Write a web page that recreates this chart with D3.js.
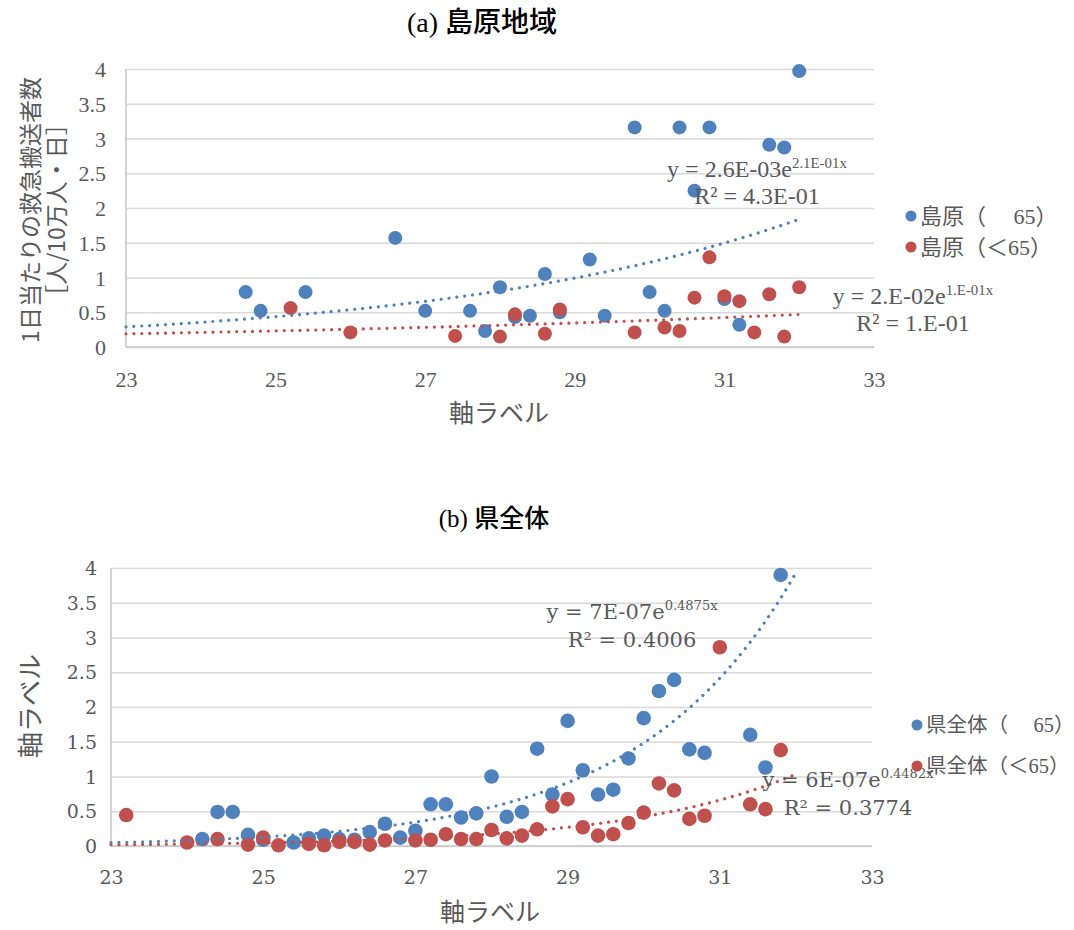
<!DOCTYPE html>
<html>
<head>
<meta charset="utf-8">
<script src="https://cdn.jsdelivr.net/npm/d3@7"></script>
<style>
  body { margin: 0; background: #fff; }
  text { fill: #595959; }
</style>
</head>
<body>
<svg id="chart" width="1074" height="930"></svg>
<script>
// ---------- shared axis ticks ----------
const xTicks = [23, 25, 27, 29, 31, 33];
const yTicks = [0, 0.5, 1, 1.5, 2, 2.5, 3, 3.5, 4];

// ---------- (a) 島原地域 ----------
const shimaOldX = [24.6, 24.8, 25.4, 26.6, 27.0, 27.6, 27.8, 28.0, 28.2, 28.4, 28.6, 28.8, 29.2, 29.4, 29.8, 30.0, 30.2, 30.4, 30.6, 30.8, 31.0, 31.2, 31.6, 31.8, 32.0];
const shimaOldY = [0.79, 0.52, 0.79, 1.57, 0.52, 0.52, 0.23, 0.86, 0.43, 0.45, 1.05, 0.50, 1.26, 0.45, 3.16, 0.79, 0.52, 3.16, 2.25, 3.16, 0.69, 0.32, 2.91, 2.87, 3.97];
const shimaYoungX = [25.2, 26.0, 27.4, 28.0, 28.2, 28.6, 28.8, 29.8, 30.2, 30.4, 30.6, 30.8, 31.0, 31.2, 31.4, 31.6, 31.8, 32.0];
const shimaYoungY = [0.56, 0.21, 0.16, 0.15, 0.47, 0.19, 0.54, 0.21, 0.28, 0.23, 0.71, 1.29, 0.73, 0.66, 0.21, 0.76, 0.15, 0.86];
// exponential trend y = a·e^(b·x) and R²
const shimaOldTrend = [0.00256, 0.2055, 0.43];
const shimaYoungTrend = [0.0188, 0.1005, 0.12];
const shimaLegend = ["島原（　 65）", "島原（＜65）"];

// ---------- (b) 県全体 ----------
const prefOldX = [24.2, 24.4, 24.6, 24.8, 25.0, 25.4, 25.6, 25.8, 26.0, 26.2, 26.4, 26.6, 26.8, 27.0, 27.2, 27.4, 27.6, 27.8, 28.0, 28.2, 28.4, 28.6, 28.8, 29.0, 29.2, 29.4, 29.6, 29.8, 30.0, 30.2, 30.4, 30.6, 30.8, 31.4, 31.6, 31.8];
const prefOldY = [0.10, 0.49, 0.49, 0.16, 0.09, 0.05, 0.11, 0.15, 0.10, 0.09, 0.20, 0.32, 0.12, 0.22, 0.60, 0.60, 0.41, 0.47, 1.00, 0.42, 0.49, 1.40, 0.74, 1.80, 1.09, 0.74, 0.81, 1.26, 1.84, 2.23, 2.39, 1.39, 1.34, 1.60, 1.13, 3.90];
const prefYoungX = [23.2, 24.0, 24.4, 24.8, 25.0, 25.2, 25.6, 25.8, 26.0, 26.2, 26.4, 26.6, 27.0, 27.2, 27.4, 27.6, 27.8, 28.0, 28.2, 28.4, 28.6, 28.8, 29.0, 29.2, 29.4, 29.6, 29.8, 30.0, 30.2, 30.4, 30.6, 30.8, 31.0, 31.4, 31.6, 31.8];
const prefYoungY = [0.445, 0.05, 0.10, 0.02, 0.12, 0.01, 0.03, 0.01, 0.06, 0.06, 0.02, 0.08, 0.08, 0.09, 0.17, 0.10, 0.10, 0.23, 0.11, 0.15, 0.24, 0.57, 0.675, 0.27, 0.15, 0.17, 0.33, 0.48, 0.90, 0.80, 0.39, 0.435, 2.86, 0.60, 0.53, 1.38];
const prefOldTrend = [6.6e-7, 0.4875, 0.4006];
const prefYoungTrend = [6.1e-7, 0.4482, 0.3774];
const prefLegend = ["県全体（　 65）", "県全体（＜65）"];

const BLUE = "#4F81BD", RED = "#C0504D";
const SERIF = "'Liberation Serif', 'Times New Roman', serif";
const CJK = "'Noto Sans CJK JP', 'Noto Sans', sans-serif";
const SERIF_CJK = "'Liberation Serif', 'Noto Sans CJK JP', serif";
const SERIF2 = "'DejaVu Serif', 'Liberation Serif', serif";

// Excel-style scientific notation: "2.6E-03", "2.E-02"
function sci(v, digits) {
  let e = Math.floor(Math.log10(Math.abs(v)));
  let m = v / Math.pow(10, e);
  if (Number(m.toFixed(digits)) >= 10) { e += 1; m = v / Math.pow(10, e); }
  const ms = digits === 0 ? m.toFixed(0) + "." : m.toFixed(digits);
  const es = (e < 0 ? "-" : "+") + String(Math.abs(e)).padStart(2, "0");
  return ms + "E" + es;
}
// General-format numbers: "7E-07", "0.4875"
function general(v) {
  if (Math.abs(v) < 1e-4) {
    let e = Math.floor(Math.log10(Math.abs(v)));
    const m = Math.round(v / Math.pow(10, e));
    return m + "E" + (e < 0 ? "-" : "+") + String(Math.abs(e)).padStart(2, "0");
  }
  return String(v);
}

const svg = d3.select("#chart");

function drawPanel(cfg) {
  const g = svg.append("g");
  const x = d3.scaleLinear().domain([23, 33]).range([cfg.left, cfg.right]);
  const y = d3.scaleLinear().domain([0, 4]).range([cfg.bottom, cfg.top]);

  // horizontal gridlines
  g.append("g")
    .attr("transform", `translate(${cfg.left},0)`)
    .call(d3.axisLeft(y).tickValues(yTicks).tickSize(-(cfg.right - cfg.left)).tickFormat(""))
    .call(a => a.select(".domain").remove())
    .call(a => a.selectAll("line").attr("stroke", "#D9D9D9").attr("stroke-width", 1.6));

  // left and bottom axis lines
  g.append("line").attr("x1", cfg.left).attr("x2", cfg.left)
    .attr("y1", y(4)).attr("y2", y(0)).attr("stroke", "#C8C8C8").attr("stroke-width", 1.6);
  g.append("line").attr("x1", cfg.left).attr("x2", cfg.right)
    .attr("y1", y(0)).attr("y2", y(0)).attr("stroke", "#C8C8C8").attr("stroke-width", 1.6);

  // y tick labels
  g.append("g")
    .attr("transform", `translate(${cfg.yLabelX},0)`)
    .call(d3.axisLeft(y).tickValues(yTicks).tickSize(0).tickPadding(0).tickFormat(d3.format("")))
    .call(a => a.select(".domain").remove())
    .call(a => a.attr("font-family", cfg.tickFont).attr("font-size", cfg.tickSize))
    .selectAll("text")
    .attr("fill", "#595959")
    .attr("dy", "0.35em");

  // x tick labels
  g.append("g")
    .attr("transform", `translate(0,${cfg.xLabelY})`)
    .call(d3.axisBottom(x).tickValues(xTicks).tickSize(0).tickPadding(0).tickFormat(d3.format("")))
    .call(a => a.select(".domain").remove())
    .call(a => a.attr("font-family", cfg.tickFont).attr("font-size", cfg.tickSize))
    .selectAll("text")
    .attr("fill", "#595959")
    .attr("dy", "0.35em");

  // markers: older group first, younger group on top
  const series = [
    { xs: cfg.oldX, ys: cfg.oldY, color: BLUE },
    { xs: cfg.youngX, ys: cfg.youngY, color: RED }
  ];
  series.forEach(s => {
    g.append("g").selectAll("circle")
      .data(s.xs.map((v, i) => [v, s.ys[i]]))
      .join("circle")
      .attr("cx", d => x(d[0]))
      .attr("cy", d => y(d[1]))
      .attr("r", cfg.r)
      .attr("fill", s.color);
  });

  // exponential trendlines, dotted
  const line = d3.line().x(d => x(d[0])).y(d => y(d[1]));
  [[cfg.oldTrend, BLUE], [cfg.youngTrend, RED]].forEach(([t, color]) => {
    const pts = d3.range(23, 32.0001, 0.05).map(v => [v, t[0] * Math.exp(t[1] * v)]);
    g.append("path").attr("d", line(pts))
      .attr("fill", "none").attr("stroke", color)
      .attr("stroke-width", 3.2).attr("stroke-linecap", "round")
      .attr("stroke-dasharray", "0.01 7.9");
  });

  // trendline equations
  cfg.labels.forEach(L => {
    const t1 = g.append("text").attr("x", L.x).attr("y", L.y)
      .attr("text-anchor", "middle")
      .style("font-family", cfg.eqFont).style("font-size", cfg.eqSize + "px");
    t1.append("tspan").text("y = " + L.a + "e");
    t1.append("tspan").attr("dy", -9).style("font-size", (cfg.eqSize * 0.62) + "px").text(L.b + "x");
    g.append("text").attr("x", L.x).attr("y", L.y + cfg.eqLine)
      .attr("text-anchor", "middle")
      .style("font-family", cfg.eqFont).style("font-size", cfg.eqSize + "px")
      .text("R² = " + L.r2);
  });

  // legend
  cfg.legend.forEach((name, i) => {
    const ly = cfg.legendY + i * cfg.legendGap;
    g.append("circle").attr("cx", cfg.legendX).attr("cy", ly).attr("r", 5.5)
      .attr("fill", i === 0 ? BLUE : RED);
    g.append("text").attr("x", cfg.legendX + 9).attr("y", ly).attr("dy", "0.36em")
      .style("font-family", cfg.legendFont).style("font-size", cfg.legendSize + "px")
      .text(name);
  });

  // title
  g.append("text").attr("x", cfg.titleX).attr("y", cfg.titleY)
    .attr("text-anchor", "middle")
    .style("fill", "#000")
    .style("font-family", SERIF_CJK).style("font-size", cfg.titleSize + "px")
    .style("font-weight", 500)
    .text(cfg.title);

  // x axis title
  g.append("text").attr("x", cfg.xTitleX).attr("y", cfg.xTitleY)
    .attr("text-anchor", "middle")
    .style("font-family", CJK).style("font-size", "25px")
    .text("軸ラベル");

  // y axis title (rotated)
  const yt = g.append("text")
    .attr("transform", `translate(${cfg.yTitleX},${cfg.yTitleY}) rotate(-90)`)
    .attr("text-anchor", "middle")
    .style("font-family", CJK).style("font-size", cfg.yTitleSize + "px");
  cfg.yTitle.forEach((s, i) => {
    yt.append("tspan").attr("x", 0).attr("dy", i === 0 ? 0 : cfg.yTitleSize * 1.13).text(s);
  });
}

drawPanel({
  left: 126, right: 874, top: 69, bottom: 347, r: 7,
  oldX: shimaOldX, oldY: shimaOldY, youngX: shimaYoungX, youngY: shimaYoungY,
  oldTrend: shimaOldTrend, youngTrend: shimaYoungTrend,
  tickFont: SERIF, tickSize: 22, yLabelX: 106, xLabelY: 379,
  eqFont: SERIF, eqSize: 24, eqLine: 27,
  labels: [
    { x: 757, y: 177, a: sci(shimaOldTrend[0], 1), b: sci(shimaOldTrend[1], 1), r2: sci(shimaOldTrend[2], 1) },
    { x: 913, y: 304, a: sci(shimaYoungTrend[0], 0), b: sci(shimaYoungTrend[1], 0), r2: sci(shimaYoungTrend[2], 0) }
  ],
  legend: shimaLegend, legendX: 911, legendY: 216, legendGap: 31, legendFont: SERIF_CJK, legendSize: 22,
  title: "(a) 島原地域", titleX: 482, titleY: 32, titleSize: 28,
  xTitleX: 499, xTitleY: 422,
  yTitle: ["1日当たりの救急搬送者数", "［人/10万人・日］"], yTitleX: 39, yTitleY: 210, yTitleSize: 23
});

drawPanel({
  left: 111, right: 872, top: 568, bottom: 846, r: 7.3,
  oldX: prefOldX, oldY: prefOldY, youngX: prefYoungX, youngY: prefYoungY,
  oldTrend: prefOldTrend, youngTrend: prefYoungTrend,
  tickFont: SERIF2, tickSize: 19, yLabelX: 97, xLabelY: 877,
  eqFont: SERIF2, eqSize: 21, eqLine: 28,
  labels: [
    { x: 632, y: 619, a: general(prefOldTrend[0]), b: general(prefOldTrend[1]), r2: general(prefOldTrend[2]) },
    { x: 848, y: 787, a: general(prefYoungTrend[0]), b: general(prefYoungTrend[1]), r2: general(prefYoungTrend[2]) }
  ],
  legend: prefLegend, legendX: 917, legendY: 725, legendGap: 41, legendFont: SERIF_CJK, legendSize: 20.5,
  title: "(b) 県全体", titleX: 494, titleY: 527, titleSize: 25,
  xTitleX: 490, xTitleY: 921,
  yTitle: ["軸ラベル"], yTitleX: 40, yTitleY: 706, yTitleSize: 26
});
</script>
</body>
</html>
